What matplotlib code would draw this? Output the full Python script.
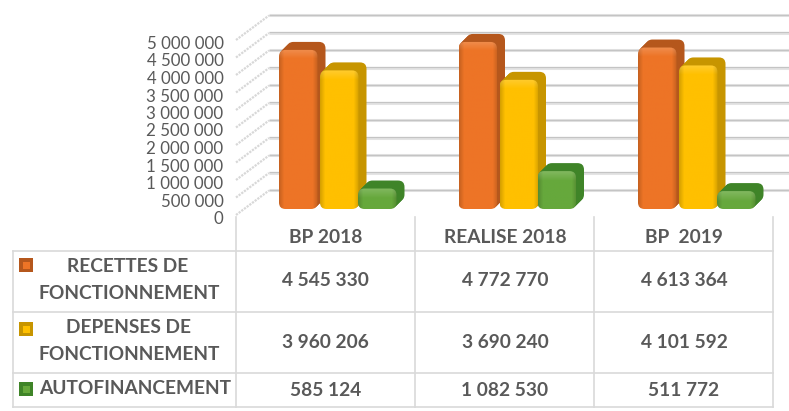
import numpy as np
import matplotlib
matplotlib.use('Agg')
import matplotlib.pyplot as plt
from matplotlib.patches import FancyBboxPatch, Rectangle
from matplotlib.transforms import ScaledTranslation

plt.rcParams['font.family'] = ['Lato', 'DejaVu Sans']

# Data
categories = ['BP 2018', 'REALISE 2018', 'BP  2019']
series_names = [['RECETTES DE', 'FONCTIONNEMENT'], ['DEPENSES DE', 'FONCTIONNEMENT'], ['AUTOFINANCEMENT']]
recettes = [4545330, 4772770, 4613364]
depenses = [3960206, 3690240, 4101592]
autofin = [585124, 1082530, 511772]
y_ticks = [0, 500000, 1000000, 1500000, 2000000, 2500000, 3000000, 3500000, 4000000, 4500000, 5000000]

front_colors = ['#ed7426', '#ffc000', '#66a83c']
side_colors = ['#b5571c', '#c79500', '#3f8428']
text_color = '#595959'
line_color = '#d9d9d9'

W, H = 789, 411
fig = plt.figure(figsize=(W / 100, H / 100), dpi=100, facecolor='white')

# chart axes, 1 px = PX_X in x and PX_Y in y
PX_X = 1 / 179.5
PX_Y = 1e6 / 35
ax = fig.add_axes([236 / W, 1 - 215 / H, (W - 236) / W, 215 / H])
ax.set_xlim(-89.5 * PX_X, (W - 325.5) * PX_X)
ax.set_ylim(0, 215 * PX_Y)
ax.set_autoscale_on(False)
ax.patch.set_visible(False)
for s in ax.spines.values():
    s.set_visible(False)
ax.set_xticks([])
ax.set_yticks(y_ticks)
ax.set_yticklabels([f'{v:,}'.replace(',', ' ') for v in y_ticks], fontsize=12.2, color=text_color)
ax.tick_params(axis='y', length=0, pad=9)
# tick labels sit a bit lower than the lines
for lab in ax.get_yticklabels():
    lab.set_transform(lab.get_transform() + ScaledTranslation(0, -2.5 / 100, fig.dpi_scale_trans))

# back wall, floor offset 33 px right and 25 px up
x_left = ax.get_xlim()[0]
x_right = ax.get_xlim()[1]
wall_dx = 33 * PX_X
wall_dy = 24.5 * PX_Y
for v in y_ticks:
    ax.plot([x_left + wall_dx, x_right], [v + wall_dy, v + wall_dy], color='#e4e4e4', lw=2.2, zorder=1,
            solid_capstyle='butt', clip_on=False)
    ax.plot([x_left + wall_dx, x_right], [v + wall_dy + 0.7 * PX_Y] * 2, color='#c4c4c4', lw=0.9, zorder=1.1,
            solid_capstyle='butt', clip_on=False)
    ax.plot([x_left, x_left + wall_dx], [v, v + wall_dy], color='#d8d8d8', lw=1.6, ls=(0, (1, 0.5)), zorder=1,
            clip_on=False)


def draw_bar(x0, value, col, side, zo):
    w = 38.5 * PX_X
    base = 6 * PX_Y
    aspect = PX_Y / PX_X
    style = f'round,pad=0,rounding_size={6.5 * PX_X}'
    h = value
    # extruded depth
    for d in range(8, 0, -1):
        p = FancyBboxPatch((x0 + d * PX_X, base + d * PX_Y), w, h, boxstyle=style, mutation_aspect=aspect,
                           fc=side, ec='none', zorder=zo)
        ax.add_patch(p)
    front = FancyBboxPatch((x0, base), w, h, boxstyle=style, mutation_aspect=aspect, fc='none', ec='none', zorder=zo)
    ax.add_patch(front)
    # shaded front face, darker at the edges and lighter near the top
    rgb = np.array(matplotlib.colors.to_rgb(col))
    xs = np.linspace(0, 1, 40)
    shade = 0.84 + 0.16 * np.minimum(1, np.minimum(xs, 1 - xs) * 8)
    n = max(int(h / PX_Y), 2)
    top = np.clip(1 - (n - 1 - np.arange(n)) / 9, 0, 1) * 0.18
    img = np.tile((shade[:, None] * rgb)[None, :, :], (n, 1, 1))
    img = np.clip(img + top[:, None, None] * (1 - img), 0, 1)
    im = ax.imshow(img, extent=[x0, x0 + w, base, base + h], aspect='auto', origin='lower', zorder=zo,
                   interpolation='bilinear')
    im.set_clip_path(front)


# bars
bar_offset = [-59.5, -18.5, 19.5]
for i in range(len(categories)):
    for j, (vals, off, c, sc) in enumerate(zip([recettes, depenses, autofin], bar_offset, front_colors, side_colors)):
        draw_bar(i + (off + 13) * PX_X, vals[i], c, sc, 3 + j)

# table drawn on an overlay
tb = fig.add_axes([0, 0, 1, 1])
tb.set_xlim(0, W)
tb.set_ylim(H, 0)
tb.axis('off')
tb.patch.set_visible(False)

col_edges = [236, 415, 594, 773]
row_edges = [251, 312, 373, 407]
for x in col_edges:
    tb.plot([x, x], [217, row_edges[-1]], color=line_color, lw=1.2)
tb.plot([13, 13], [row_edges[0], row_edges[-1]], color=line_color, lw=1.2)
for y in row_edges:
    tb.plot([13, col_edges[-1]], [y, y], color=line_color, lw=1.2)

centers = [325.5, 505, 684]
font_sz = 13.8
for c, name in zip(centers, categories):
    tb.text(c, 237.5, name, ha='center', va='center', fontsize=font_sz, fontweight='bold', color=text_color)

row_ys = [280.5, 342, 390]
for vals, y in zip([recettes, depenses, autofin], row_ys):
    for c, v in zip(centers, vals):
        tb.text(c, y, f'{v:,}'.replace(',', ' '), ha='center', va='center', fontsize=font_sz, fontweight='bold',
                color=text_color)

label_ys = [[266, 293], [327, 354], [388]]
label_xs = [[128, 129], [129, 129], [135]]
for names, ys, xs in zip(series_names, label_ys, label_xs):
    for name, y, x in zip(names, ys, xs):
        tb.text(x, y, name, ha='center', va='center', fontsize=font_sz, fontweight='bold', color=text_color)

# legend keys
key_ys = [258, 322, 382]
for y, c, sc in zip(key_ys, front_colors, side_colors):
    tb.add_patch(Rectangle((19.5, y), 14, 14, fc=sc, ec='none'))
    tb.add_patch(Rectangle((23, y + 3.5), 7, 7, fc=c, ec='none'))

fig.savefig('out.png', dpi=100)
